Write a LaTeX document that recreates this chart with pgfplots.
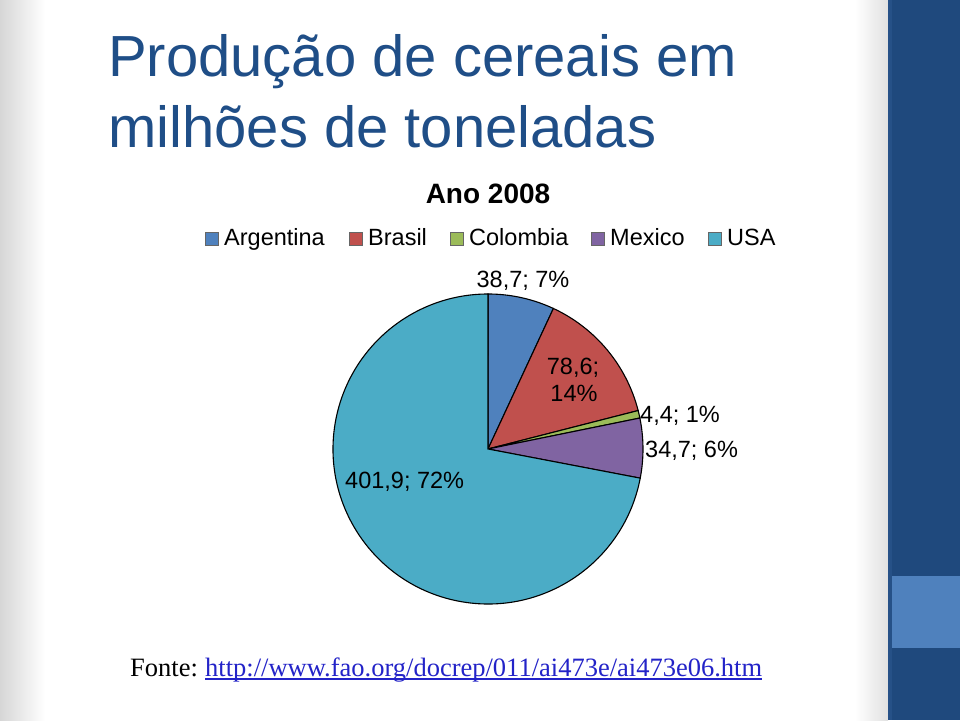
\documentclass[border=0pt]{standalone}
\usepackage{pgfplots}
\pgfplotsset{compat=1.18}
\usepackage{pgfplotstable}
\usepackage{fontspec}
\setmainfont{Liberation Sans}
\newfontfamily\seriffont{Liberation Serif}
\definecolor{titleblue}{RGB}{31,78,135}
\definecolor{barblue}{RGB}{31,73,125}
\definecolor{bandblue}{RGB}{79,129,189}
\definecolor{argcol}{RGB}{79,129,189}
\definecolor{bracol}{RGB}{192,80,77}
\definecolor{colcol}{RGB}{155,187,89}
\definecolor{mexcol}{RGB}{128,100,162}
\definecolor{usacol}{RGB}{75,172,198}
\definecolor{linkblue}{RGB}{35,35,200}
\newcommand\legfont{\fontsize{23.5}{28}\selectfont}

\pgfplotstableread{
country value
Argentina 38.7
Brasil 78.6
Colombia 4.4
Mexico 34.7
USA 401.9
}\cerealdata

\begin{document}
\begin{tikzpicture}[x=1pt,y=1pt]
\useasboundingbox (0,0) rectangle (960,720);
\fill[white] (0,0) rectangle (960,720);
\shade[left color=black!16, right color=white] (0,0) rectangle (45,720);
\shade[left color=white, right color=black!12] (855,0) rectangle (888,720);
\fill[barblue] (888,0) rectangle (960,720);
\fill[bandblue] (888,72) rectangle (960,144);
\fill[barblue!85!bandblue] (888,0) rectangle (892,720);

% title
\node[anchor=base west, inner sep=0, text=titleblue, font=\fontsize{58}{71}\selectfont] at (108,643) {Produção de cereais em};
\node[anchor=base west, inner sep=0, text=titleblue, font=\fontsize{58}{71}\selectfont] at (108,572) {milhões de toneladas};

% chart title
\node[anchor=base, inner sep=0, font=\fontsize{28}{32}\selectfont\bfseries] at (488,516) {Ano 2008};

% legend
\foreach \sx/\tx/\col/\name in {205/224/argcol/Argentina, 349/368/bracol/Brasil, 450/469/colcol/Colombia, 591/610/mexcol/Mexico, 708/727/usacol/USA}{
  \filldraw[fill=\col, draw=black!60, line width=0.6pt] (\sx,475) rectangle ++(13,13);
  \node[anchor=base west, inner sep=0, font=\legfont] at (\tx,474) {\name};
}

% angles from data
\pgfplotstablegetelem{0}{value}\of\cerealdata \let\vA\pgfplotsretval
\pgfplotstablegetelem{1}{value}\of\cerealdata \let\vB\pgfplotsretval
\pgfplotstablegetelem{2}{value}\of\cerealdata \let\vC\pgfplotsretval
\pgfplotstablegetelem{3}{value}\of\cerealdata \let\vD\pgfplotsretval
\pgfplotstablegetelem{4}{value}\of\cerealdata \let\vE\pgfplotsretval
\pgfmathsetmacro\total{\vA+\vB+\vC+\vD+\vE}
\pgfmathsetmacro\aA{90}
\pgfmathsetmacro\aB{\aA-(\vA/\total)*360}
\pgfmathsetmacro\aC{\aB-(\vB/\total)*360}
\pgfmathsetmacro\aD{\aC-(\vC/\total)*360}
\pgfmathsetmacro\aE{\aD-(\vD/\total)*360}
\pgfmathsetmacro\aF{\aE-(\vE/\total)*360}

\begin{axis}[at={(488,271)}, anchor=center, x=1pt, y=1pt,
  xmin=-160, xmax=160, ymin=-160, ymax=160, hide axis, clip=false]
\fill[argcol, draw=black, line width=1.1pt] (axis cs:0,0) -- (axis cs:{155*cos(\aA)},{155*sin(\aA)}) arc[start angle=\aA, end angle=\aB, radius=155pt] -- cycle;
\fill[bracol, draw=black, line width=1.1pt] (axis cs:0,0) -- (axis cs:{155*cos(\aB)},{155*sin(\aB)}) arc[start angle=\aB, end angle=\aC, radius=155pt] -- cycle;
\fill[colcol, draw=black, line width=1.1pt] (axis cs:0,0) -- (axis cs:{155*cos(\aC)},{155*sin(\aC)}) arc[start angle=\aC, end angle=\aD, radius=155pt] -- cycle;
\fill[mexcol, draw=black, line width=1.1pt] (axis cs:0,0) -- (axis cs:{155*cos(\aD)},{155*sin(\aD)}) arc[start angle=\aD, end angle=\aE, radius=155pt] -- cycle;
\fill[usacol, draw=black, line width=1.1pt] (axis cs:0,0) -- (axis cs:{155*cos(\aE)},{155*sin(\aE)}) arc[start angle=\aE, end angle=\aF, radius=155pt] -- cycle;
\end{axis}

% data labels
\node[anchor=base, inner sep=0, font=\legfont] at (523,432) {38,7; 7\%};
\node[anchor=base, inner sep=0, font=\legfont] at (573,345) {78,6;};
\node[anchor=base, inner sep=0, font=\legfont] at (574,318) {14\%};
\node[anchor=base west, inner sep=0, font=\legfont] at (640,297) {4,4; 1\%};
\node[anchor=base west, inner sep=0, font=\legfont] at (645,262) {34,7; 6\%};
\node[anchor=base west, inner sep=0, font=\legfont] at (345,231) {401,9; 72\%};

% source
\node[anchor=base west, inner sep=0, font=\seriffont\fontsize{26.5}{30}\selectfont] at (130,44) {Fonte:};
\node[anchor=base west, inner sep=0, text=linkblue, font=\seriffont\fontsize{26.5}{30}\selectfont] (url) at (205,44) {http://www.fao.org/docrep/011/ai473e/ai473e06.htm};
\draw[linkblue, line width=1.2pt] ([yshift=-3pt]url.base west) -- ([yshift=-3pt]url.base east);
\end{tikzpicture}
\end{document}
